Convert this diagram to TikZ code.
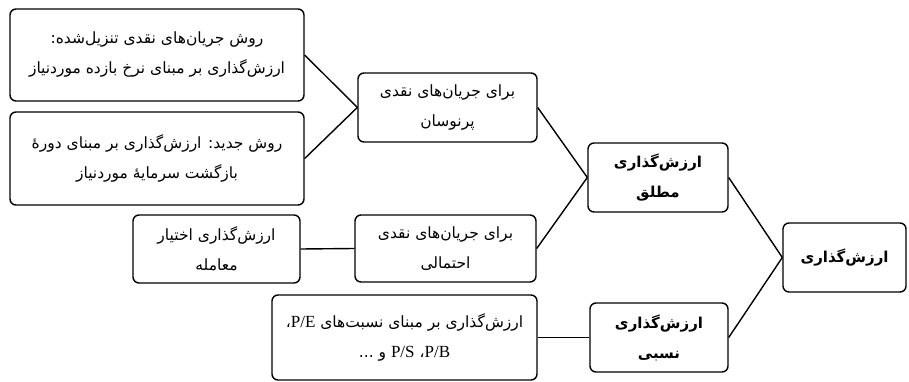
\documentclass[tikz,border=0pt]{standalone}
\usepackage{fontspec}
\usepackage{tikz}
\usetikzlibrary{positioning}
\TeXXeTstate=1
\setmainfont{Liberation Serif}
\newfontfamily\arabicfont[Script=Arabic]{DejaVu Sans}
\newfontfamily\latinfont{Liberation Serif}
\newcommand{\fa}[1]{\beginR #1\endR}
\newcommand{\lat}[1]{\beginL{\latinfont\fontsize{17}{30}\selectfont #1}\endL}
\tikzset{
  box/.style={draw, line width=1.4pt, rounded corners=6pt, align=center,
    inner sep=0pt, font=\arabicfont\fontsize{15.5}{30}\selectfont},
  boldBox/.style={box, font=\arabicfont\bfseries\fontsize{15}{30}\selectfont},
  link/.style={line width=1.4pt}
}
\begin{document}
\begin{tikzpicture}[x=1pt, y=-1pt]
  \useasboundingbox (0,0) rectangle (909,382);
  % left column
  \node[box, minimum width=294pt, minimum height=92pt] (dcf) at (157,55)
    {\fa{روش جریان‌های نقدی تنزیل‌شده:}\\\fa{ارزش‌گذاری بر مبنای نرخ بازده موردنیاز}};
  \node[box, minimum width=294pt, minimum height=93pt] (payback) at (157,158.5)
    {\fa{روش جدید: ارزش‌گذاری بر مبنای دوره‌ٔ}\\\fa{بازگشت سرمایه‌ٔ موردنیاز}};
  \node[box, minimum width=167pt, minimum height=68pt] (option) at (216.5,249)
    {\fa{ارزش‌گذاری اختیار}\\\fa{معامله}};
  \node[box, minimum width=265pt, minimum height=85pt] (ratio) at (404.5,337.5)
    {\fa{ارزش‌گذاری بر مبنای نسبت‌های \lat{P/E}،}\\\fa{\lat{P/B}، \lat{P/S} و ...}};
  % middle column
  \node[box, minimum width=179pt, minimum height=69pt] (stable) at (447.5,107.5)
    {\fa{برای جریان‌های نقدی}\\\fa{پرنوسان}};
  \node[box, minimum width=181pt, minimum height=67pt] (risky) at (445.5,248.5)
    {\fa{برای جریان‌های نقدی}\\\fa{احتمالی}};
  % right columns
  \node[boldBox, minimum width=140pt, minimum height=69pt] (absolute) at (658,177.5)
    {\fa{ارزش‌گذاری}\\\fa{مطلق}};
  \node[boldBox, minimum width=138pt, minimum height=69pt] (relative) at (659,337.5)
    {\fa{ارزش‌گذاری}\\\fa{نسبی}};
  \node[boldBox, minimum width=123pt, minimum height=69pt] (valuation) at (844.5,257.5)
    {\fa{ارزش‌گذاری}};

  % connectors
  \draw[link] (dcf.east) -- (stable.west);
  \draw[link] (payback.east) -- (stable.west);
  \draw[link] (option.east) -- (risky.west);
  \draw[link] (stable.east) -- (absolute.west);
  \draw[link] (risky.east) -- (absolute.west);
  \draw[link] (ratio.east) -- (relative.west);
  \draw[link] (absolute.east) -- (valuation.west);
  \draw[link] (relative.east) -- (valuation.west);
\end{tikzpicture}
\end{document}
